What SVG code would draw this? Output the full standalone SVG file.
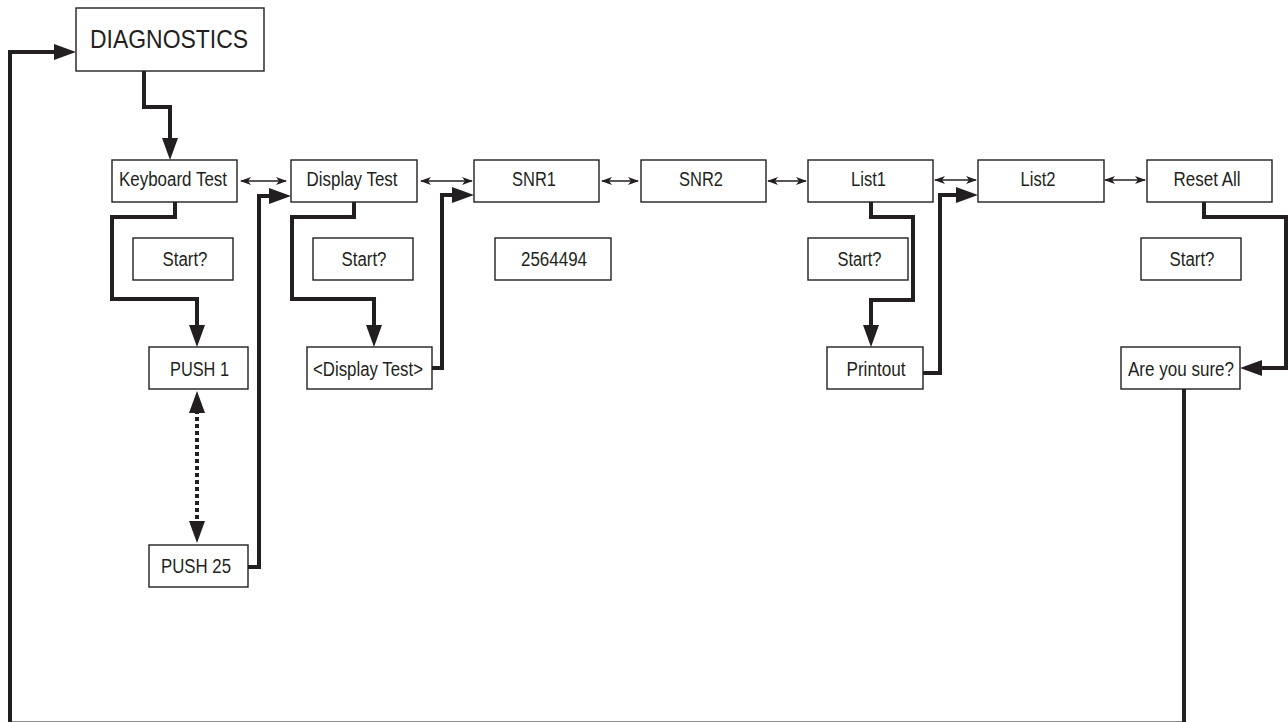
<svg xmlns="http://www.w3.org/2000/svg" width="1288" height="722" viewBox="0 0 1288 722">
<style>
.box{fill:#fff;stroke:#231f20;stroke-width:1.4}
.t{font-family:"Liberation Sans",Arial,sans-serif;font-size:19.5px;fill:#231f20;text-anchor:middle}
.big{font-size:25.5px}
.flow{fill:none;stroke:#231f20;stroke-width:4;marker-end:url(#ah)}
.nav{fill:none;stroke:#231f20;stroke-width:1.4;marker-start:url(#sa);marker-end:url(#sa)}
.dot{fill:none;stroke:#231f20;stroke-width:4;stroke-dasharray:4 3;marker-start:url(#ah);marker-end:url(#ah)}
</style>
<defs>
<marker id="ah" markerUnits="userSpaceOnUse" markerWidth="22" markerHeight="16" refX="10" refY="8" orient="auto-start-reverse" viewBox="0 0 22 16">
<path d="M0,0 L22,8 L0,16 z" fill="#231f20"/>
</marker>
<marker id="sa" markerUnits="userSpaceOnUse" markerWidth="11" markerHeight="9" refX="10" refY="4.5" orient="auto-start-reverse" viewBox="0 0 11 9">
<path d="M0,0.5 L11,4.5 L0,8.5 L3,4.5 z" fill="#231f20"/>
</marker>
</defs>
<rect width="1288" height="722" fill="#fff"/>
<g id="connectors">
<path class="flow" d="M144,71 V107 H170 V148"/>
<path class="flow" d="M175,202 V217 H112 V299 H197 V335"/>
<path class="flow" d="M248,567 H259 V196 H279"/>
<path class="flow" d="M354,202 V217 H292 V299 H374 V335"/>
<path class="flow" d="M432,368 H442 V195 H462"/>
<path class="flow" d="M871,202 V217 H913 V300 H871 V335"/>
<path class="flow" d="M923,373 H940 V195 H966"/>
<path class="flow" d="M1204,202 V217 H1286 V368 H1252"/>
<path class="flow" d="M1184,389 V723.5 H10 V52 H64"/>
<path class="dot" d="M197,403 V531"/>
<path class="nav" d="M241,181 H286"/>
<path class="nav" d="M421,181 H472"/>
<path class="nav" d="M602,181 H638"/>
<path class="nav" d="M768,181 H806"/>
<path class="nav" d="M935,180 H976"/>
<path class="nav" d="M1105,180 H1145"/>
</g>
<g id="diagnostics"><rect class="box" x="76" y="8" width="188" height="63"/><text class="t big" x="169" y="48" textLength="158" lengthAdjust="spacingAndGlyphs">DIAGNOSTICS</text></g>
<g id="keyboard-test"><rect class="box" x="112" y="160" width="125" height="42"/><text class="t" x="173" y="186" textLength="108" lengthAdjust="spacingAndGlyphs">Keyboard Test</text></g>
<g id="display-test"><rect class="box" x="291" y="160" width="126" height="42"/><text class="t" x="352" y="186" textLength="91" lengthAdjust="spacingAndGlyphs">Display Test</text></g>
<g id="snr1"><rect class="box" x="474" y="160" width="125" height="42"/><text class="t" x="534" y="186" textLength="44" lengthAdjust="spacingAndGlyphs">SNR1</text></g>
<g id="snr2"><rect class="box" x="641" y="160" width="125" height="42"/><text class="t" x="701" y="186" textLength="44" lengthAdjust="spacingAndGlyphs">SNR2</text></g>
<g id="list1"><rect class="box" x="808" y="160" width="125" height="42"/><text class="t" x="868.5" y="186" textLength="35" lengthAdjust="spacingAndGlyphs">List1</text></g>
<g id="list2"><rect class="box" x="978" y="160" width="126" height="42"/><text class="t" x="1038" y="186" textLength="35" lengthAdjust="spacingAndGlyphs">List2</text></g>
<g id="reset-all"><rect class="box" x="1147" y="160" width="125" height="42"/><text class="t" x="1207" y="186" textLength="67" lengthAdjust="spacingAndGlyphs">Reset All</text></g>
<g id="kb-start"><rect class="box" x="133" y="238" width="100" height="42"/><text class="t" x="185" y="266" textLength="45" lengthAdjust="spacingAndGlyphs">Start?</text></g>
<g id="dt-start"><rect class="box" x="313" y="238" width="100" height="42"/><text class="t" x="364" y="266" textLength="45" lengthAdjust="spacingAndGlyphs">Start?</text></g>
<g id="snr1-value"><rect class="box" x="495" y="238" width="116" height="42"/><text class="t" x="554" y="266" textLength="66" lengthAdjust="spacingAndGlyphs">2564494</text></g>
<g id="list1-start"><rect class="box" x="808" y="238" width="100" height="42"/><text class="t" x="859.5" y="266" textLength="44" lengthAdjust="spacingAndGlyphs">Start?</text></g>
<g id="reset-start"><rect class="box" x="1141" y="238" width="100" height="42"/><text class="t" x="1192" y="266" textLength="45" lengthAdjust="spacingAndGlyphs">Start?</text></g>
<g id="push1"><rect class="box" x="149" y="347" width="99" height="42"/><text class="t" x="199.5" y="376" textLength="59" lengthAdjust="spacingAndGlyphs">PUSH 1</text></g>
<g id="display-test-run"><rect class="box" x="307" y="347" width="125" height="42"/><text class="t" x="368" y="376" textLength="110" lengthAdjust="spacingAndGlyphs">&lt;Display Test&gt;</text></g>
<g id="printout"><rect class="box" x="827" y="347" width="96" height="42"/><text class="t" x="876" y="376" textLength="59" lengthAdjust="spacingAndGlyphs">Printout</text></g>
<g id="are-you-sure"><rect class="box" x="1121" y="347" width="119" height="42"/><text class="t" x="1181" y="376" textLength="106" lengthAdjust="spacingAndGlyphs">Are you sure?</text></g>
<g id="push25"><rect class="box" x="149" y="545" width="99" height="42"/><text class="t" x="196" y="573" textLength="70" lengthAdjust="spacingAndGlyphs">PUSH 25</text></g>
</svg>
